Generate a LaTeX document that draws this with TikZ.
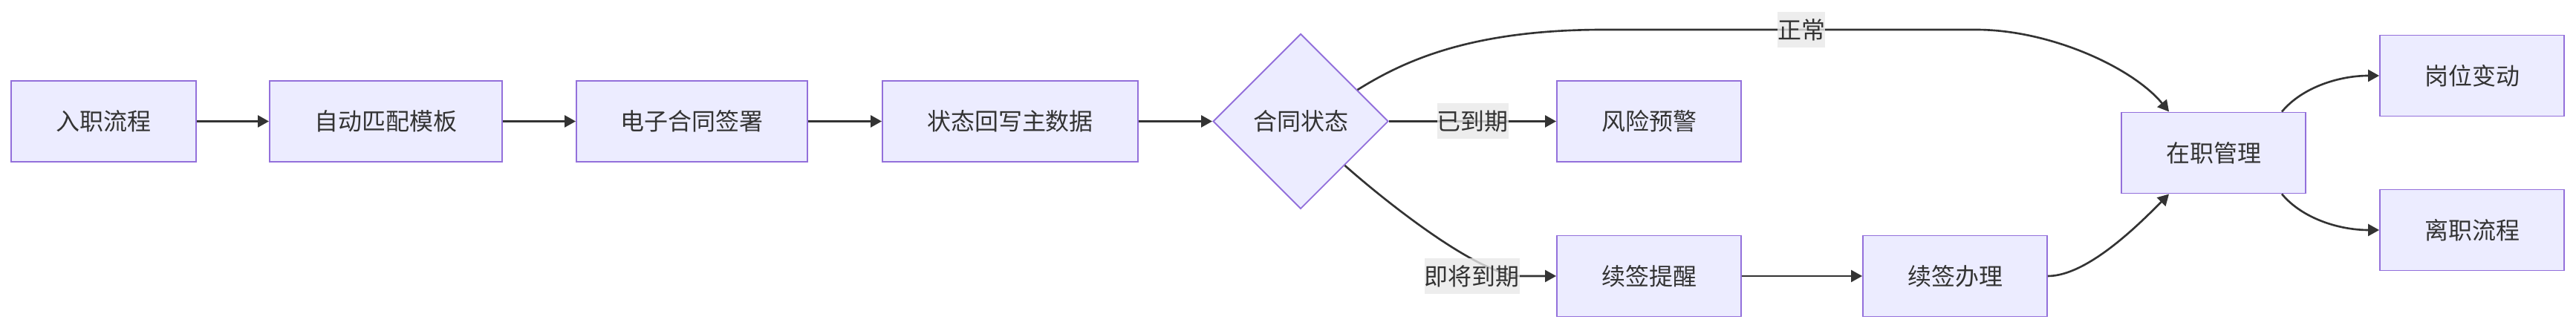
\documentclass[tikz,border=0pt]{standalone}
\usepackage{fontspec}
\setmainfont{Noto Sans CJK SC}
\usetikzlibrary{shapes.geometric, arrows.meta}

\definecolor{nodefill}{HTML}{ECECFF}
\definecolor{nodeline}{HTML}{9370DB}
\definecolor{edgeline}{HTML}{333333}
\definecolor{tagfill}{HTML}{E8E8E8}

\begin{document}
\begin{tikzpicture}[
        proc/.style={rectangle, draw=nodeline, line width=0.55pt, fill=nodefill, minimum width=2.48cm, minimum height=1.09cm, inner sep=0pt, text=edgeline, font=\fontsize{9.1}{11}\selectfont},
        cond/.style={diamond, draw=nodeline, line width=0.55pt, fill=nodefill, minimum width=2.36cm, minimum height=2.36cm, inner sep=0pt, text=edgeline, font=\fontsize{9.1}{11}\selectfont},
        flow/.style={-{Triangle[length=0.15cm, width=0.16cm]}, line width=0.75pt, draw=edgeline},
        tag/.style={fill=tagfill, fill opacity=0.8, text opacity=1, text=edgeline, inner sep=0pt, minimum height=0.48cm, font=\fontsize{9.1}{11}\selectfont}
    ]
        \useasboundingbox (0, 0) rectangle (34.68, 4.42);
        \node[proc, minimum width=2.49cm] (entry) at (1.395, 2.785) {入职流程};
        \node[proc, minimum width=3.13cm] (match) at (5.195, 2.785) {自动匹配模板};
        \node[proc, minimum width=3.11cm] (sign) at (9.315, 2.785) {电子合同签署};
        \node[proc, minimum width=3.44cm] (writeback) at (13.60, 2.785) {状态回写主数据};
        \node[cond] (status) at (17.51, 2.785) {合同状态};
        \node[proc] (risk) at (22.20, 2.785) {风险预警};
        \node[proc] (remind) at (22.20, 0.70) {续签提醒};
        \node[proc] (renew) at (26.32, 0.70) {续签办理};
        \node[proc] (onjob) at (29.80, 2.36) {在职管理};
        \node[proc] (transfer) at (33.28, 3.40) {岗位变动};
        \node[proc] (leave) at (33.28, 1.32) {离职流程};
        \draw[flow] (entry) -- (match);
        \draw[flow] (match) -- (sign);
        \draw[flow] (sign) -- (writeback);
        \draw[flow] (writeback) -- (status);
        \draw[flow] (status.east) -- node[tag] {已到期} (risk.west);
        \draw[flow] (status.29) .. controls (18.9, 3.6) and (19.8, 4.02) .. (21.6, 4.02) -- node[tag, pos=0.53] {正常} (26.6, 4.02) .. controls (27.6, 4.02) and (28.71, 3.51) .. ([xshift=0.65cm]onjob.north west);
        \draw[flow] (status.south east) .. controls (18.6, 1.75) and (19.9, 0.70) .. (20.47, 0.70) node[tag, anchor=east] {即将到期} -- (remind.west);
        \draw[flow] (remind) -- (renew);
        \draw[flow] (renew.east) .. controls (28.1, 0.70) and (28.8, 1.40) .. ([xshift=0.65cm]onjob.south west);
        \draw[flow] ([xshift=-0.33cm]onjob.north east) .. controls (31.0, 3.25) and (31.5, 3.40) .. (transfer.west);
        \draw[flow] ([xshift=-0.33cm]onjob.south east) .. controls (31.0, 1.47) and (31.5, 1.32) .. (leave.west);
    \end{tikzpicture}
\end{document}
